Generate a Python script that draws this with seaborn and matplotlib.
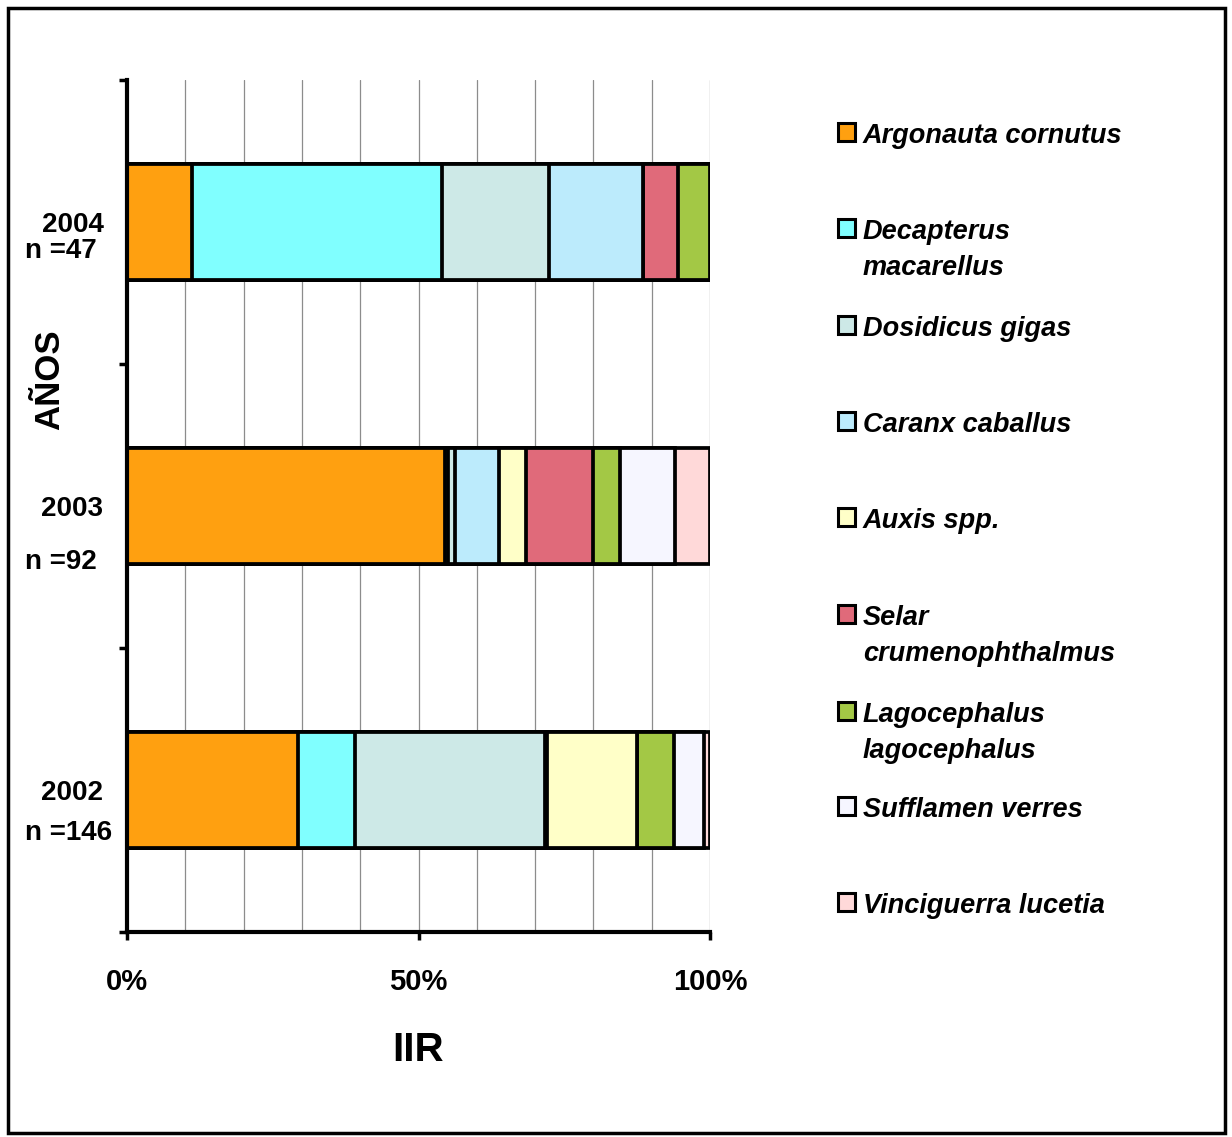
import numpy as np
import pandas as pd
import matplotlib
matplotlib.use("Agg")
import matplotlib.pyplot as plt
from matplotlib.patches import Rectangle
from matplotlib.transforms import blended_transform_factory
from matplotlib import font_manager
import seaborn as sns

# ---------------- data ----------------
years = ["2004", "2003", "2002"]
n_labels = ["n =47", "n =92", "n =146"]
species = ["Argonauta cornutus", "Decapterus\nmacarellus", "Dosidicus gigas",
           "Caranx caballus", "Auxis spp.", "Selar\ncrumenophthalmus",
           "Lagocephalus\nlagocephalus", "Sufflamen verres", "Vinciguerra lucetia"]
# percentage of IIR per year, order as species list
v2004 = [11.1, 42.9, 18.4, 16.1, 0.0, 6.0, 5.5, 0.0, 0.0]
v2003 = [54.6, 0.5, 1.2, 7.5, 4.7, 11.5, 4.6, 9.4, 6.0]
v2002 = [29.3, 9.8, 32.6, 0.3, 15.4, 0.0, 6.5, 5.1, 1.0]
colors = ["#FFA010", "#80FFFF", "#CDE9E7", "#BCEBFC", "#FFFFC8",
          "#E06A7A", "#A3C845", "#F6F6FF", "#FFD9D9"]
x_ticks = [0, 50, 100]
x_ticklabels = ["0%", "50%", "100%"]

# ---------------- fonts ----------------
sns.set_style("white")
names = {f.name for f in font_manager.fontManager.ttflist}
base = "Liberation Sans" if "Liberation Sans" in names else "DejaVu Sans"
narrow = "Liberation Sans Narrow" if "Liberation Sans Narrow" in names else base
plt.rcParams["font.family"] = [base, "DejaVu Sans"]
for key in ["text.color", "axes.labelcolor", "xtick.color", "ytick.color"]:
    plt.rcParams[key] = "black"

W, H = 1232, 1137
fig = plt.figure(figsize=(W / 100, H / 100), dpi=100)
ax = fig.add_axes([127 / W, 1 - 932 / H, 583 / W, 852 / H])

# normalise to 100 and build cumulative sums
vals = np.array([v2004, v2003, v2002], dtype=float)
vals = vals / vals.sum(axis=1, keepdims=True) * 100
cum = np.cumsum(vals, axis=1)

for i in range(len(species) - 1, -1, -1):
    df = pd.DataFrame({"year": years, "cum": cum[:, i]})
    sns.barplot(data=df, x="cum", y="year", order=years, orient="h",
                color=colors[i], saturation=1, edgecolor="black",
                linewidth=2.7, width=0.41, errorbar=None, ax=ax)

ax.set_xlim(0, 100)
ax.set_ylim(2.5, -0.5)
ax.set_axisbelow(True)

# x axis
ax.set_xticks(x_ticks)
ax.set_xticklabels(x_ticklabels, fontfamily=narrow, fontweight="bold", fontsize=21)
ax.set_xticks(np.arange(0, 101, 10), minor=True)
ax.tick_params(axis="x", which="major", direction="out", length=6, width=2.5,
               color="black", pad=20, bottom=True)
ax.tick_params(axis="x", which="minor", length=0)
ax.grid(axis="x", which="both", color="#8c8c8c", linewidth=0.9)
ax.grid(axis="y", visible=False)

# y axis
ax.set_yticks([0, 1, 2])
ax.set_yticklabels(years, fontweight="bold", fontsize=20)
ax.set_yticks([-0.5, 0.5, 1.5, 2.5], minor=True)
ax.tick_params(axis="y", which="major", length=0, pad=17)
ax.tick_params(axis="y", which="minor", direction="out", length=6, width=2.5,
               color="black", left=True)

for s in ["top", "right"]:
    ax.spines[s].set_visible(False)
for s in ["left", "bottom"]:
    ax.spines[s].set_linewidth(3.0)
    ax.spines[s].set_color("black")

ax.set_xlabel("IIR", fontfamily=narrow, fontweight="bold", fontsize=29, labelpad=25)
ax.set_ylabel("AÑOS", fontweight="bold", fontsize=25, va="center")
ax.yaxis.set_label_coords(-0.132, 0.648)

# sample sizes
n_offsets = [0.127, 0.223, 0.177]
trans = blended_transform_factory(fig.transFigure, ax.transData)
for k, (lab, off) in enumerate(zip(n_labels, n_offsets)):
    ax.text(25 / W, k + off, lab, transform=trans, ha="left", va="baseline",
            fontweight="bold", fontsize=20)

# legend (drawn at figure level)
baselines = [143, 239, 336, 432, 528, 625, 722, 817, 913]
for lab, col, bl in zip(species, colors, baselines):
    fig.patches.append(Rectangle((838 / W, 1 - (bl - 2) / H), 17 / W, 18 / H,
                                 transform=fig.transFigure, facecolor=col,
                                 edgecolor="black", linewidth=2.2))
    for j, line in enumerate(lab.split("\n")):
        fig.text(863 / W, 1 - (bl + 36 * j) / H, line, ha="left", va="baseline",
                 fontweight="bold", fontstyle="italic", fontsize=19.5)

# outer frame
fig.patches.append(Rectangle((8 / W, 4 / H), 1217 / W, 1125 / H,
                             transform=fig.transFigure, fill=False,
                             edgecolor="black", linewidth=2.5))

fig.savefig("out.png", dpi=100)
